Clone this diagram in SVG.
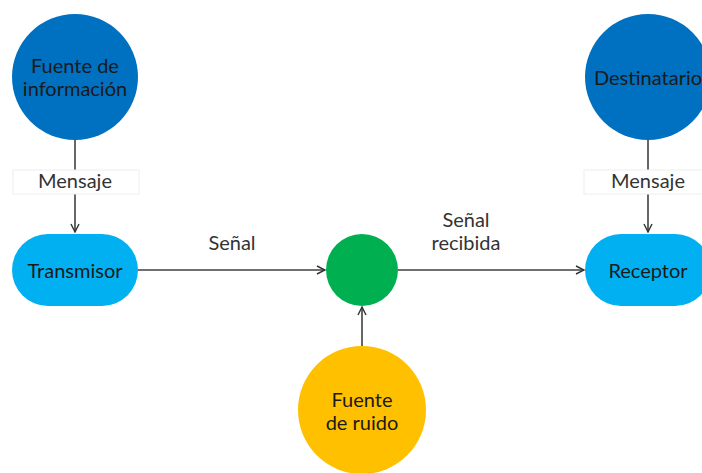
<svg xmlns="http://www.w3.org/2000/svg" width="702" height="473" viewBox="0 0 702 473">
<defs>
<marker id="arr" viewBox="0 0 10 10" refX="9" refY="5" markerWidth="10" markerHeight="10" markerUnits="userSpaceOnUse" orient="auto">
<path d="M1,1 L9,5 L1,9" fill="none" stroke="#333" stroke-width="1.4"/>
</marker>
<style>
text{font-family:Lato,"Open Sans","Liberation Sans",sans-serif;font-size:20px;fill:#1a1a1a;text-anchor:middle}
.lbl{fill:#333}
.c{stroke:#404040;stroke-width:1.6;fill:none}
.box{fill:#fff;stroke:#eeeeee;stroke-width:1}
</style>
</defs>
<rect width="702" height="473" fill="#fff"/>
<g id="connectors">
<line class="c" x1="75" y1="140" x2="75" y2="232" marker-end="url(#arr)"/>
<line class="c" x1="648" y1="140" x2="648" y2="232" marker-end="url(#arr)"/>
<line class="c" x1="138" y1="270" x2="325" y2="270" marker-end="url(#arr)"/>
<line class="c" x1="398" y1="270" x2="584" y2="270" marker-end="url(#arr)"/>
<line class="c" x1="362" y1="346" x2="362" y2="307" marker-end="url(#arr)"/>
<rect class="box" x="13" y="170" width="126" height="24"/>
<text class="lbl" x="75" y="188">Mensaje</text>
<rect class="box" x="584" y="170" width="126" height="24"/>
<text class="lbl" x="648" y="188">Mensaje</text>
<text class="lbl" x="232" y="250">Señal</text>
<text class="lbl" x="466" y="227">Señal</text>
<text class="lbl" x="466" y="250">recibida</text>
</g>
<g id="fuente-informacion">
<circle cx="75" cy="77" r="63" fill="#0070C0"/>
<text x="75" y="73">Fuente de</text>
<text x="75" y="96">información</text>
</g>
<g id="destinatario">
<circle cx="648" cy="77" r="63" fill="#0070C0"/>
<text x="648" y="85">Destinatario</text>
</g>
<g id="transmisor">
<rect x="12" y="234" width="126" height="72" rx="36" fill="#00B0F0"/>
<text x="75" y="278">Transmisor</text>
</g>
<g id="receptor">
<rect x="585" y="234" width="126" height="72" rx="36" fill="#00B0F0"/>
<text x="648" y="278">Receptor</text>
</g>
<g id="canal">
<circle cx="362" cy="270" r="36" fill="#00B050"/>
</g>
<g id="fuente-ruido">
<circle cx="362" cy="410" r="64" fill="#FFC000"/>
<text x="362" y="407">Fuente</text>
<text x="362" y="430">de ruido</text>
</g>
</svg>
